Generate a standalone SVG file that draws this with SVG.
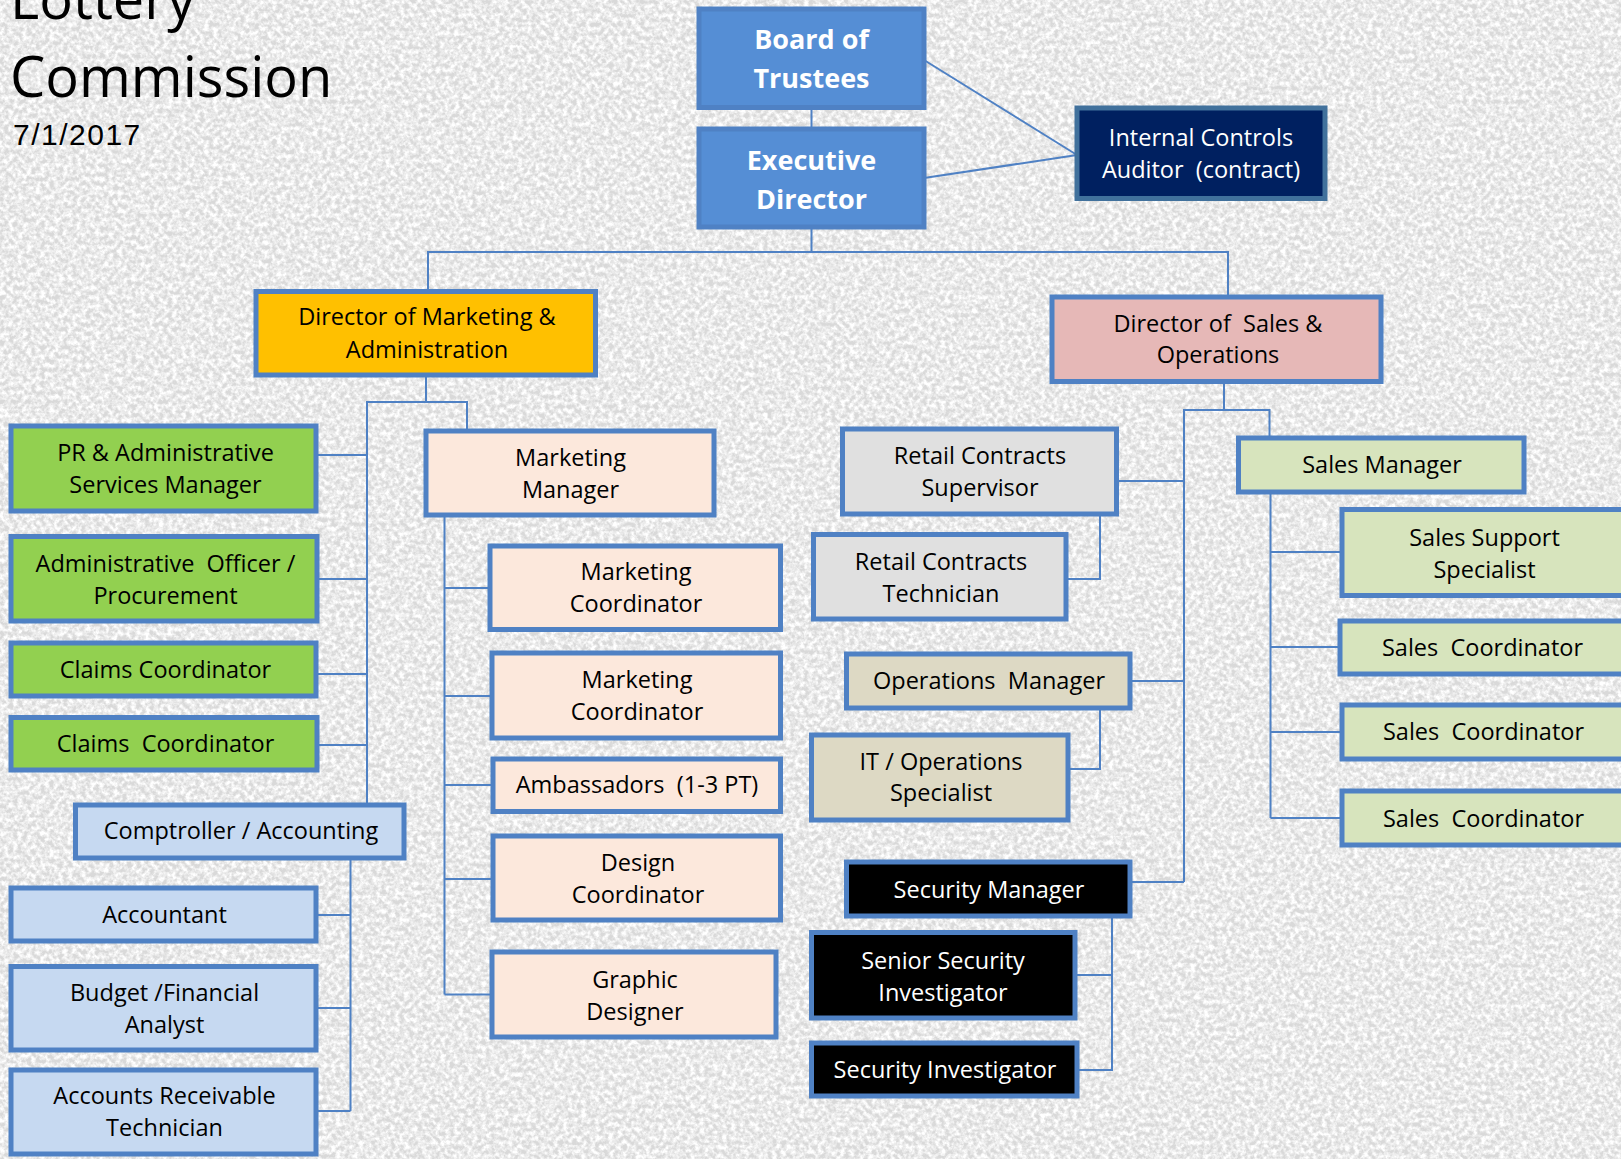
<svg xmlns="http://www.w3.org/2000/svg" width="1621" height="1159" viewBox="0 0 1621 1159">
<defs>
<filter id="grain" x="0" y="0" width="100%" height="100%" filterUnits="userSpaceOnUse">
<feTurbulence type="fractalNoise" baseFrequency="0.22" numOctaves="3" seed="7" result="n"/>
<feColorMatrix in="n" type="matrix" values="0 0 0 0 1  0 0 0 0 1  0 0 0 0 1  2.6 0 0 0 -0.85"/>
</filter>
<style>
.box{stroke:#4f81c4;stroke-width:5}
.t{font-family:"Open Sans","Noto Sans",sans-serif;font-size:23.5px;fill:#000;text-anchor:middle}
.w{fill:#fff}
.b{font-weight:bold;font-size:27px}
.c{fill:none;stroke:#4f81c4;stroke-width:2}
.green{fill:#92d050}.lblue{fill:#c6d9f1}.peach{fill:#fce8dc}.gray{fill:#e0e0e0}.tan{fill:#ddd9c4}.sgreen{fill:#d7e4bd}.pink{fill:#e6b8b7}.orange{fill:#ffc000}.blk{fill:#000}.mblue{fill:#558ed5}
</style>
</defs>
<rect x="0" y="0" width="1621" height="1159" fill="#d9d9d9"/>
<rect x="0" y="0" width="1621" height="1159" fill="#fff" filter="url(#grain)"/>

<g id="title">
<text x="10" y="19" style="font-family:'Open Sans','Noto Sans',sans-serif;font-size:56px;fill:#000">Lottery</text>
<text x="10" y="97" style="font-family:'Open Sans','Noto Sans',sans-serif;font-size:56px;fill:#000">Commission</text>
<text x="13" y="145" style="font-family:'Liberation Sans',Arial,sans-serif;font-size:30px;letter-spacing:1.5px;fill:#000">7/1/2017</text>
</g>

<g id="connectors">
<path class="c" d="M811.5 107V129"/>
<path class="c" d="M924 60L1077 155"/>
<path class="c" d="M924 178L1077 155"/>
<path class="c" d="M811.5 227V252M428 291V252H1228V297"/>
<path class="c" d="M426 375V402M367 805V402H467V431"/>
<path class="c" d="M316 455H367M316 579H367M316 674H367M316 745H367"/>
<path class="c" d="M350.5 858V1111M316 915H350.5M316 1008H350.5M316 1111H350.5"/>
<path class="c" d="M444.5 515V994.5M444.5 588H490M444.5 696H492M444.5 785H493M444.5 879H493M444.5 994.5H492"/>
<path class="c" d="M1224 381.5V410M1184 882V410H1269.5V438"/>
<path class="c" d="M1116.5 481H1184M1130 681H1184M1130 882H1184"/>
<path class="c" d="M1100 514V579H1066M1100 708V769H1068"/>
<path class="c" d="M1112 916V1070H1077M1075 975H1112"/>
<path class="c" d="M1270.5 492V818M1270.5 552H1342M1270.5 647H1340M1270.5 732H1342M1270.5 818H1342"/>
</g>

<g id="board"><rect class="box mblue" x="699" y="9" width="225" height="98.5"/>
<text class="t w b" x="811.5" y="49">Board of</text><text class="t w b" x="811.5" y="88">Trustees</text></g>
<g id="exec"><rect class="box mblue" x="699" y="129" width="225" height="98"/>
<text class="t w b" x="811.5" y="170">Executive</text><text class="t w b" x="811.5" y="209">Director</text></g>
<g id="auditor"><rect x="1077" y="108" width="248" height="90.5" fill="#002060" stroke="#41719c" stroke-width="5"/>
<text class="t w" x="1201" y="145.5" xml:space="preserve">Internal Controls</text><text class="t w" x="1201" y="177.5" xml:space="preserve">Auditor  (contract)</text></g>

<g id="dir-mkt"><rect class="box orange" x="256" y="291.5" width="339.5" height="83.5"/>
<text class="t" x="427" y="325">Director of Marketing &amp;</text><text class="t" x="427" y="357.5">Administration</text></g>
<g id="dir-sales"><rect class="box pink" x="1052" y="297" width="329" height="84.5"/>
<text class="t" x="1218" y="332" xml:space="preserve">Director of  Sales &amp;</text><text class="t" x="1218" y="363">Operations</text></g>

<g id="pr"><rect class="box green" x="11" y="426" width="305" height="85"/>
<text class="t" x="165.5" y="461">PR &amp; Administrative</text><text class="t" x="165.5" y="493">Services Manager</text></g>
<g id="admin-officer"><rect class="box green" x="11" y="536.5" width="306" height="84.5"/>
<text class="t" x="165.5" y="571.5" xml:space="preserve">Administrative  Officer /</text><text class="t" x="165.5" y="603.5">Procurement</text></g>
<g id="claims1"><rect class="box green" x="11" y="643" width="305" height="53"/>
<text class="t" x="165.5" y="678">Claims Coordinator</text></g>
<g id="claims2"><rect class="box green" x="11" y="717.5" width="306" height="52.5"/>
<text class="t" x="165.5" y="752" xml:space="preserve">Claims  Coordinator</text></g>

<g id="comptroller"><rect class="box lblue" x="75.5" y="805" width="328.5" height="53"/>
<text class="t" x="241" y="839">Comptroller / Accounting</text></g>
<g id="accountant"><rect class="box lblue" x="11" y="888" width="305" height="53"/>
<text class="t" x="164.5" y="923">Accountant</text></g>
<g id="budget"><rect class="box lblue" x="11" y="966.5" width="305" height="83.5"/>
<text class="t" x="164.5" y="1000.5">Budget /Financial</text><text class="t" x="164.5" y="1032.5">Analyst</text></g>
<g id="ar"><rect class="box lblue" x="11" y="1070" width="305" height="84"/>
<text class="t" x="164.5" y="1104">Accounts Receivable</text><text class="t" x="164.5" y="1136">Technician</text></g>

<g id="mkt-mgr"><rect class="box peach" x="426" y="431" width="288" height="84"/>
<text class="t" x="570.5" y="466">Marketing</text><text class="t" x="570.5" y="498">Manager</text></g>
<g id="mkt-coord1"><rect class="box peach" x="490" y="546" width="290.5" height="83.5"/>
<text class="t" x="636" y="580">Marketing</text><text class="t" x="636" y="612">Coordinator</text></g>
<g id="mkt-coord2"><rect class="box peach" x="492" y="653" width="288.5" height="85"/>
<text class="t" x="637" y="688">Marketing</text><text class="t" x="637" y="720">Coordinator</text></g>
<g id="ambassadors"><rect class="box peach" x="493" y="759" width="287.5" height="52.5"/>
<text class="t" x="637" y="793" xml:space="preserve">Ambassadors  (1-3 PT)</text></g>
<g id="design"><rect class="box peach" x="493" y="836" width="287.5" height="84"/>
<text class="t" x="638" y="871">Design</text><text class="t" x="638" y="903">Coordinator</text></g>
<g id="graphic"><rect class="box peach" x="492" y="952" width="284" height="85"/>
<text class="t" x="635" y="988">Graphic</text><text class="t" x="635" y="1020">Designer</text></g>

<g id="retail-sup"><rect class="box gray" x="842.5" y="429" width="274" height="85"/>
<text class="t" x="980" y="464">Retail Contracts</text><text class="t" x="980" y="496">Supervisor</text></g>
<g id="retail-tech"><rect class="box gray" x="813.5" y="534.5" width="252.5" height="84.5"/>
<text class="t" x="941" y="570">Retail Contracts</text><text class="t" x="941" y="601.5">Technician</text></g>
<g id="ops-mgr"><rect class="box tan" x="846.5" y="654" width="283.5" height="54"/>
<text class="t" x="989" y="689" xml:space="preserve">Operations  Manager</text></g>
<g id="it-ops"><rect class="box tan" x="811.5" y="735" width="256.5" height="85"/>
<text class="t" x="941" y="770">IT / Operations</text><text class="t" x="941" y="801">Specialist</text></g>
<g id="sec-mgr"><rect class="box blk" x="846.5" y="862" width="283.5" height="54"/>
<text class="t w" x="989" y="898">Security Manager</text></g>
<g id="senior-sec"><rect class="box blk" x="811.5" y="932.5" width="263.5" height="85.5"/>
<text class="t w" x="943" y="968.5">Senior Security</text><text class="t w" x="943" y="1000.5">Investigator</text></g>
<g id="sec-inv"><rect class="box blk" x="811.5" y="1043" width="265.5" height="53"/>
<text class="t w" x="945" y="1078">Security Investigator</text></g>

<g id="sales-mgr"><rect class="box sgreen" x="1238.5" y="438" width="285.5" height="54"/>
<text class="t" x="1382" y="473">Sales Manager</text></g>
<g id="sales-support"><rect class="box sgreen" x="1342" y="509.5" width="290" height="86"/>
<text class="t" x="1484.5" y="545.5">Sales Support</text><text class="t" x="1484.5" y="577.5">Specialist</text></g>
<g id="sales-coord1"><rect class="box sgreen" x="1340" y="621" width="292" height="53"/>
<text class="t" x="1482.5" y="656" xml:space="preserve">Sales  Coordinator</text></g>
<g id="sales-coord2"><rect class="box sgreen" x="1342" y="705" width="290" height="54"/>
<text class="t" x="1483.5" y="740" xml:space="preserve">Sales  Coordinator</text></g>
<g id="sales-coord3"><rect class="box sgreen" x="1342" y="791" width="290" height="54"/>
<text class="t" x="1483.5" y="827" xml:space="preserve">Sales  Coordinator</text></g>
</svg>
